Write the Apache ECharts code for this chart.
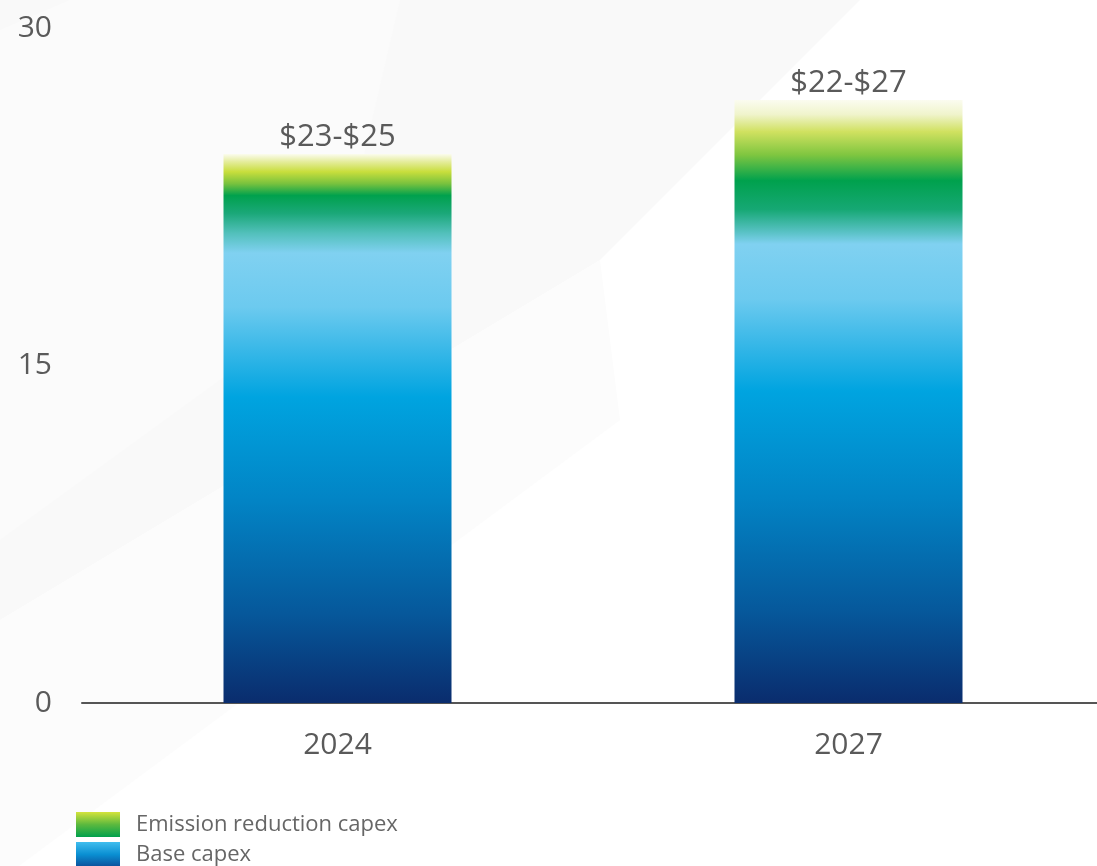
<!DOCTYPE html>
<html>
<head>
<meta charset="utf-8">
<script src="https://cdn.jsdelivr.net/npm/echarts@6/dist/echarts.min.js"></script>
<style>
html,body{margin:0;padding:0;background:#ffffff;}
#chart{width:1097px;height:866px;}
</style>
</head>
<body>
<div id="chart"></div>
<script>
var categories = ['2024', '2027'];
var baseCapex = [20.0, 20.4];
var emissionCapex = [4.4, 6.4];
var rangeLabels = ['$23-$25', '$22-$27'];
var yTicks = [0, 15, 30];
var seriesNames = ['Emission reduction capex', 'Base capex'];

var G = echarts.graphic.LinearGradient;
var baseGrad = new G(0, 0, 0, 1, [
  {offset: 0, color: '#80d1f1'},
  {offset: 0.12, color: '#6ccaef'},
  {offset: 0.32, color: '#00a4e0'},
  {offset: 0.55, color: '#0284c5'},
  {offset: 0.8, color: '#06589b'},
  {offset: 1, color: '#0a2c6d'}
]);
function emisGrad(i) {
  if (i === 0) {
    return new G(0, 0, 0, 1, [
      {offset: 0, color: '#fbfcee'},
      {offset: 0.08, color: '#e4ec9a'},
      {offset: 0.18, color: '#c8de3c'},
      {offset: 0.3, color: '#78c23e'},
      {offset: 0.42, color: '#00a14d'},
      {offset: 0.6, color: '#1ba879'},
      {offset: 0.8, color: '#52c0bb'},
      {offset: 1, color: '#80d1f1'}
    ]);
  }
  return new G(0, 0, 0, 1, [
    {offset: 0, color: '#fbfcf0'},
    {offset: 0.1, color: '#f0f4cc'},
    {offset: 0.22, color: '#d0e160'},
    {offset: 0.38, color: '#80c640'},
    {offset: 0.56, color: '#00a14d'},
    {offset: 0.76, color: '#16a874'},
    {offset: 0.92, color: '#5ac2c6'},
    {offset: 1, color: '#80d1f1'}
  ]);
}

var chart = echarts.init(document.getElementById('chart'), null, {renderer: 'canvas'});
var FONT = '"Open Sans", "Noto Sans", sans-serif';
var TXT = '#5a5a5a';
var legendText = {fontFamily: FONT, fontSize: 22, color: '#666666', padding: [0, 0, 0, 11]};

chart.setOption({
  backgroundColor: '#ffffff',
  animation: false,
  graphic: [
    {type: 'polygon', z: -10, silent: true, shape: {points: [[0,0],[860,0],[600,260],[0,620]]}, style: {fill: '#f9f9f9'}},
    {type: 'polygon', z: -9, silent: true, shape: {points: [[70,0],[400,0],[330,300],[0,540],[0,30]]}, style: {fill: '#fbfbfb'}},
    {type: 'polygon', z: -9, silent: true, shape: {points: [[0,620],[600,260],[620,420],[0,880]]}, style: {fill: '#fcfcfc'}}
  ],
  grid: {left: 82, width: 1022, top: 28, bottom: 163, containLabel: false, outerBoundsMode: 'none'},
  legend: [
    {
      orient: 'vertical', left: 71, top: 807,
      itemWidth: 44, itemHeight: 25, icon: 'rect', textStyle: legendText,
      data: [{name: seriesNames[0], itemStyle: {color: new G(0,0,0,1,[{offset:0,color:'#d4e33c'},{offset:0.5,color:'#5cb93e'},{offset:1,color:'#00a14d'}])}}]
    },
    {
      orient: 'vertical', left: 71, top: 837,
      itemWidth: 44, itemHeight: 25, icon: 'rect', textStyle: legendText,
      data: [{name: seriesNames[1], itemStyle: {color: new G(0,0,0,1,[{offset:0,color:'#40bdee'},{offset:0.5,color:'#0a8fd2'},{offset:1,color:'#0b4f9a'}])}}]
    }
  ],
  xAxis: {
    type: 'category',
    data: categories,
    axisLine: {show: true, lineStyle: {color: '#555555', width: 2}},
    axisTick: {show: false},
    axisLabel: {fontFamily: FONT, fontSize: 30, color: TXT, margin: 27}
  },
  yAxis: {
    type: 'value',
    min: yTicks[0],
    max: yTicks[yTicks.length - 1],
    interval: yTicks[1] - yTicks[0],
    axisLine: {show: false},
    axisTick: {show: false},
    splitLine: {show: false},
    axisLabel: {fontFamily: FONT, fontSize: 30, color: TXT, margin: 30}
  },
  series: [
    {
      name: seriesNames[1],
      type: 'bar',
      stack: 'capex',
      barWidth: 228,
      itemStyle: {color: baseGrad},
      data: baseCapex
    },
    {
      name: seriesNames[0],
      type: 'bar',
      stack: 'capex',
      barWidth: 228,
      data: emissionCapex.map(function (v, i) {
        return {value: v, itemStyle: {color: emisGrad(i)}};
      }),
      label: {
        show: true,
        position: 'top',
        distance: 1,
        fontFamily: FONT,
        fontSize: 31,
        color: TXT,
        formatter: function (p) { return rangeLabels[p.dataIndex]; }
      }
    }
  ]
});
</script>
</body>
</html>
